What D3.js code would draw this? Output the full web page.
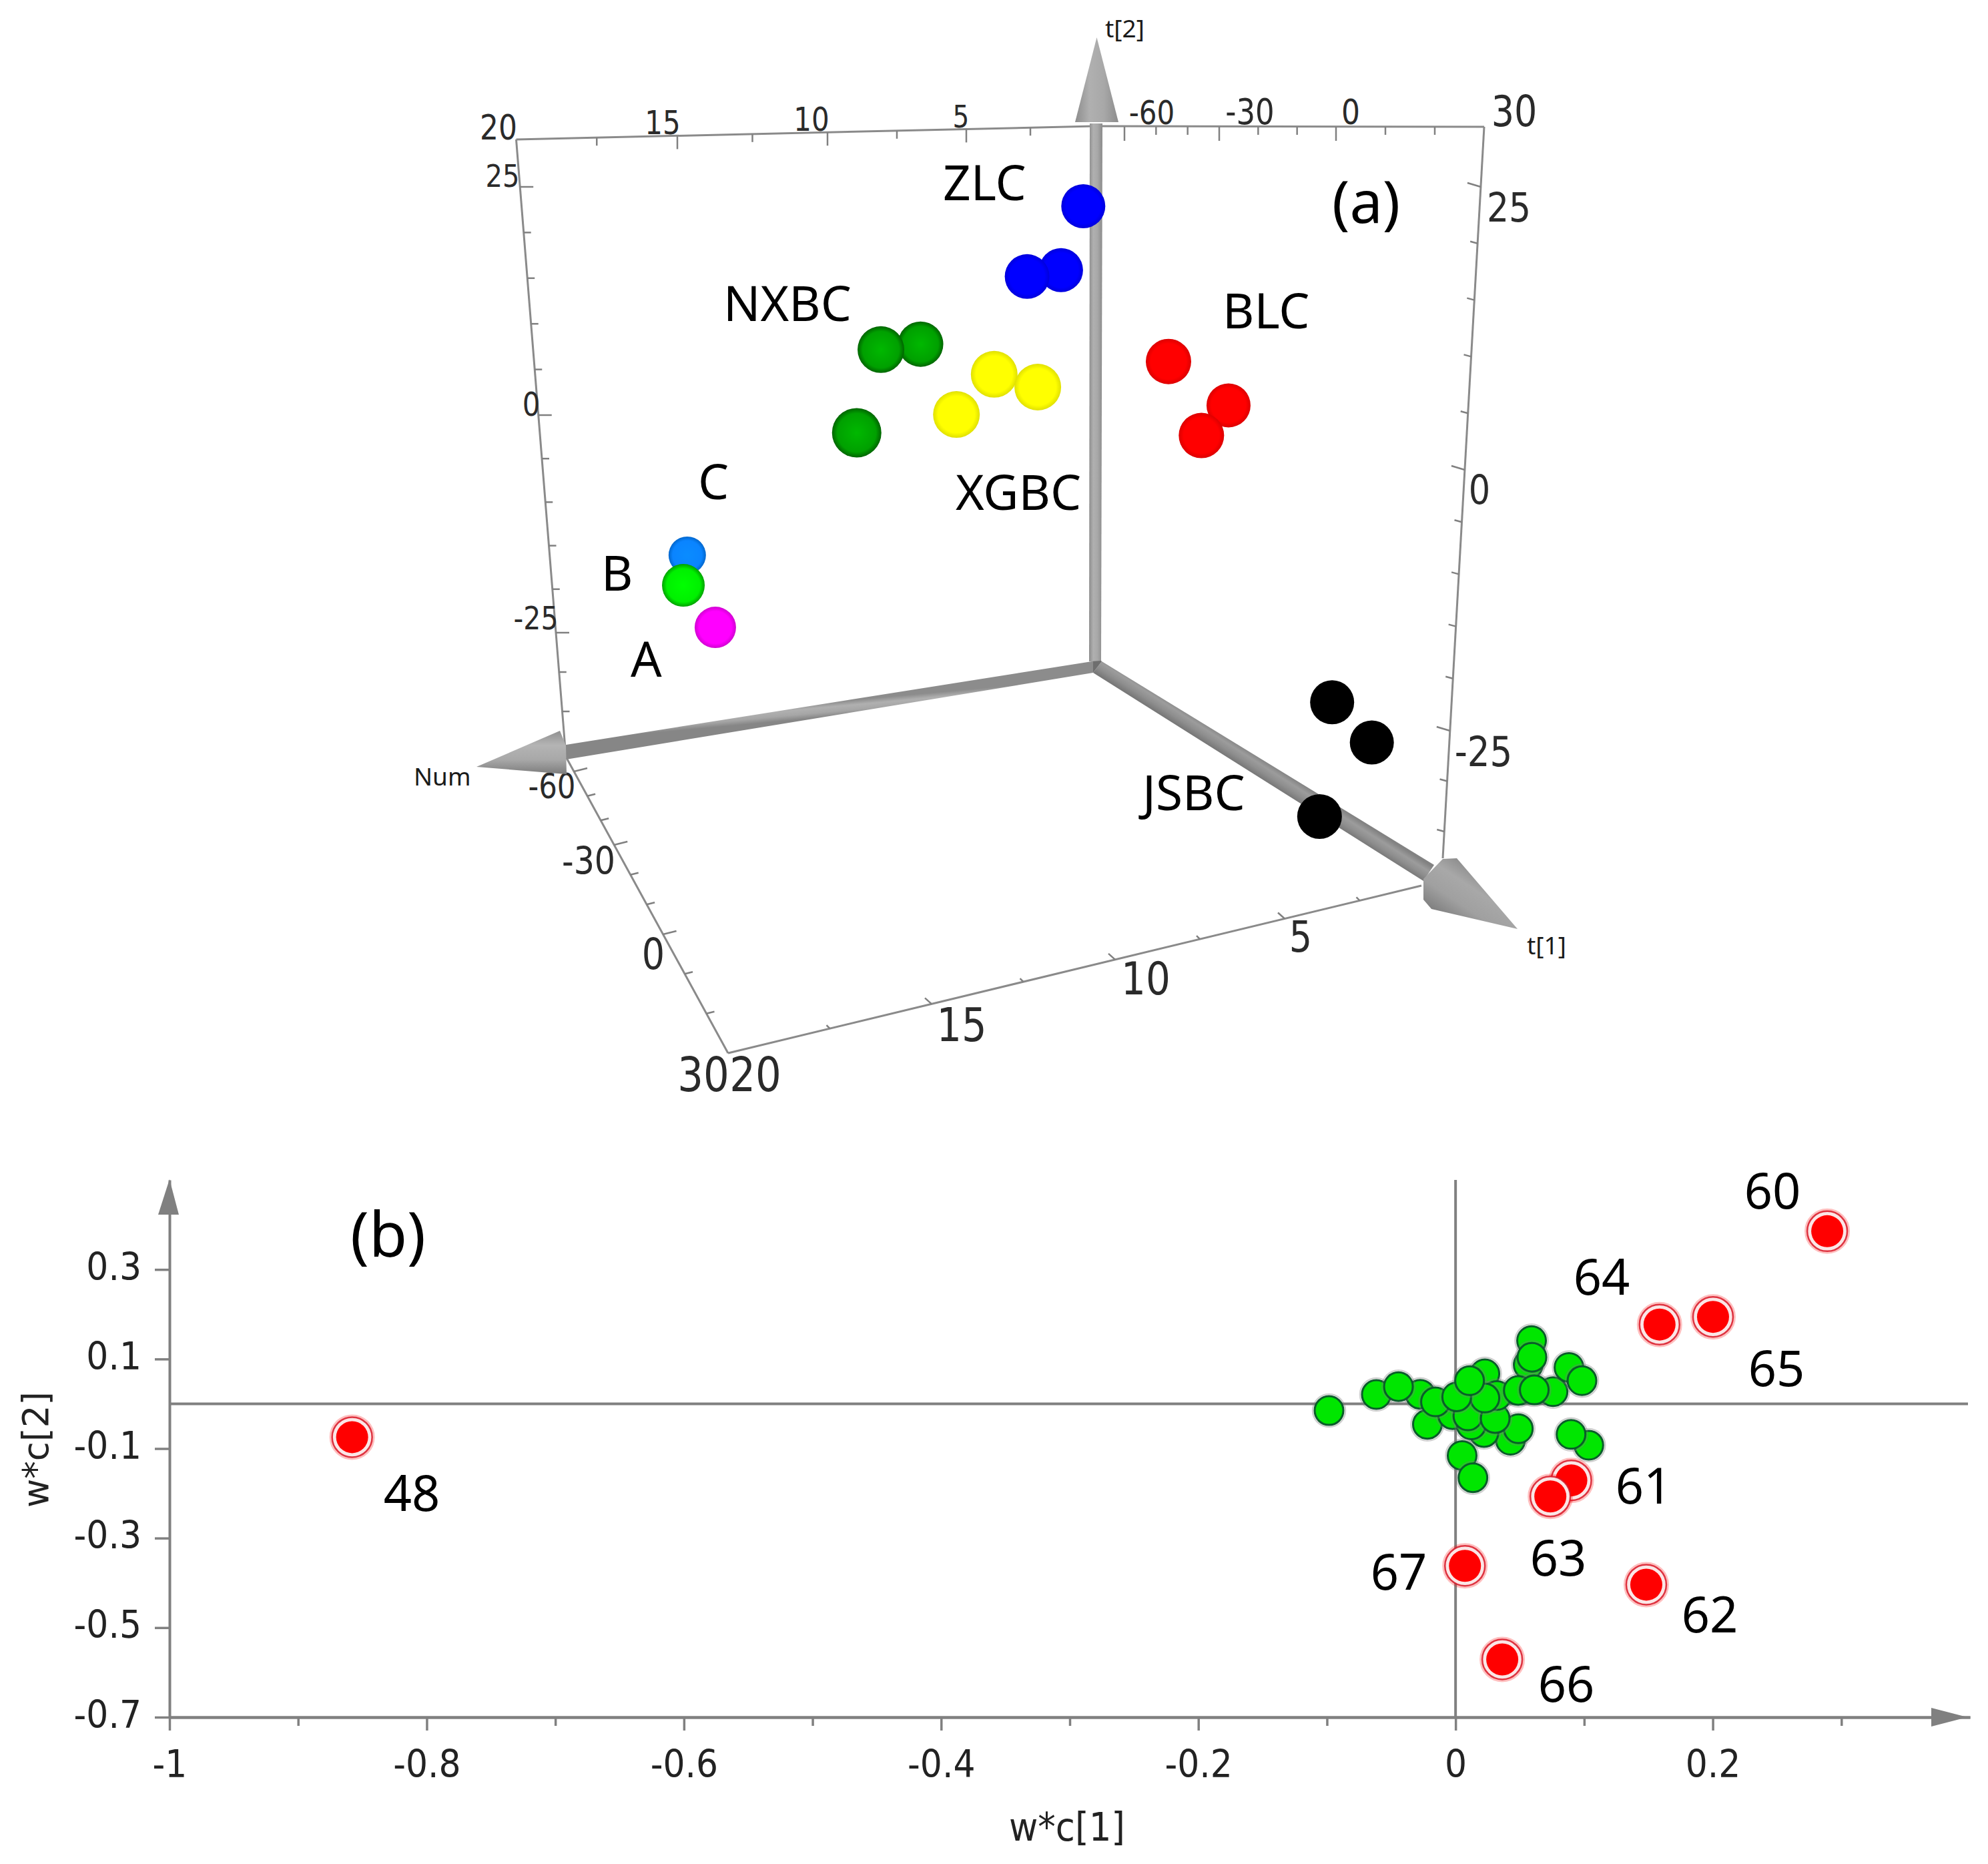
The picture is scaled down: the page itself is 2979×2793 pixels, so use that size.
<!DOCTYPE html>
<html>
<head>
<meta charset="utf-8">
<style>
html, body { margin: 0; padding: 0; background: #fff; overflow: hidden; }
svg { display: block; }
</style>
<script src="https://cdn.jsdelivr.net/npm/d3@7"></script>
</head>
<body>
<script>
var scoreGroups = ["ZLC", "ZLC", "ZLC", "NXBC", "NXBC", "NXBC", "XGBC", "XGBC", "XGBC", "BLC", "BLC", "BLC", "JSBC", "JSBC", "JSBC", "C", "B", "A"];
var scoreU = [58.6, 56.3, 52.8, 41.8, 37.7, 35.2, 49.4, 53.9, 45.5, 67.4, 73.6, 70.8, 84.3, 88.4, 83.0, 17.7, 17.3, 20.6];
var scoreV = [7.3, 14.3, 15.0, 22.4, 23.0, 32.1, 25.7, 27.1, 30.1, 24.3, 29.1, 32.4, 61.6, 66.0, 74.1, 45.5, 48.8, 53.4];
var scoreR = [33, 33, 33.5, 34, 35, 37, 35, 35, 35, 34, 33, 34, 33, 33, 33.5, 28, 32, 31];

var t1Major = [20, 15, 10, 5];
var t1Minor = [17.5, 12.5, 7.5, 2.5];
var t2Major = [25, 0, -25];
var t2Minor = [20, 15, 10, 5, -5, -10, -15, -20, -30, -35];
var numMajor = [-60, -30, 0];
var numMinor = [-50, -40, -20, -10, 10, 20];

// panel (b): loadings
var greenX = [-0.0984, -0.0275, -0.0616, -0.0444, -0.0219, -0.0023, -0.0156, 0.0228, 0.0427, 0.0488, 0.0221, 0.0122, 0.0096, 0.0308, 0.0321, 0.0228, 0.0009, 0.0109, 0.0051, 0.0135, 0.0565, 0.0488, 0.0758, 0.0612, 0.0591, 0.0594, 0.0882, 0.0983, 0.1036, 0.0898];
var greenY = [-0.0152, 0.0213, 0.0207, 0.0384, -0.0459, -0.0243, 0.0042, 0.067, -0.0814, -0.0557, -0.0641, -0.0471, -0.0271, -0.0328, 0.0185, 0.0128, 0.0156, 0.0516, -0.1155, -0.1651, 0.0869, 0.0298, 0.027, 0.031, 0.1411, 0.104, 0.0812, 0.0516, -0.0927, -0.0683];
var redIds = ["48", "60", "61", "62", "63", "64", "65", "66", "67"];
var redX = [-0.858, 0.289, 0.09, 0.1483, 0.0737, 0.1586, 0.2002, 0.0363, 0.0073];
var redY = [-0.0745, 0.3855, -0.171, -0.404, -0.207, 0.177, 0.1942, -0.571, -0.362];

var xMajor = [-1, -0.8, -0.6, -0.4, -0.2, 0, 0.2];
var xMinor = [-0.9, -0.7, -0.5, -0.3, -0.1, 0.1, 0.3];
var yMajor = [0.3, 0.1, -0.1, -0.3, -0.5, -0.7];

var axisGrey = "#808080";
var labelFont = "'Noto Sans', 'Open Sans', sans-serif";
var tickFont = "'DejaVu Sans', sans-serif";

var svg = d3.select("body").append("svg")
    .attr("width", 2979)
    .attr("height", 2793)
    .attr("viewBox", "0 0 2979 2793");
var defs = svg.append("defs");

// sphere shading, one gradient per group
var sphereColors = {
    ZLC: ["#0000ff", "#0000ff", "#0000dc"],
    NXBC: ["#00b800", "#00a000", "#006400"],
    XGBC: ["#ffff00", "#ffff00", "#e0e000"],
    BLC: ["#ff0000", "#ff0000", "#dc0000"],
    JSBC: ["#000000", "#000000", "#000000"],
    C: ["#0a8cff", "#0a84ff", "#0066cc"],
    B: ["#00ff00", "#00f000", "#00a000"],
    A: ["#ff00ff", "#ff00ff", "#d000d0"]
};
Object.keys(sphereColors).forEach(function (k) {
    var g = defs.append("radialGradient").attr("id", "sphere-" + k);
    g.append("stop").attr("offset", "0%").attr("stop-color", sphereColors[k][0]);
    g.append("stop").attr("offset", "78%").attr("stop-color", sphereColors[k][1]);
    g.append("stop").attr("offset", "100%").attr("stop-color", sphereColors[k][2]);
});

// shaft shading for the thick arrows: gradient runs across each shaft
function shaftGradient(id, x1, y1, x2, y2, stops) {
    var g = defs.append("linearGradient").attr("id", id)
        .attr("gradientUnits", "userSpaceOnUse")
        .attr("x1", x1).attr("y1", y1).attr("x2", x2).attr("y2", y2);
    stops.forEach(function (s, i) {
        g.append("stop").attr("offset", (i / (stops.length - 1) * 100) + "%").attr("stop-color", s);
    });
}
shaftGradient("t2-shaft", 1632, 0, 1651, 0, ["#8c8c8c", "#b0b0b0", "#a8a8a8", "#8e8e8e"]);
shaftGradient("t2-cone", 1611, 0, 1676, 0, ["#8c8c8c", "#b0b0b0", "#a8a8a8", "#8c8c8c"]);
shaftGradient("num-shaft", 1242, 1052, 1244, 1074, ["#8c8c8c", "#b0b0b0", "#a6a6a6", "#868686"]);
shaftGradient("num-cone", 800, 1095, 800, 1160, ["#909090", "#b4b4b4", "#a8a8a8", "#7c7c7c"]);
shaftGradient("t1-shaft", 1883, 1162, 1897, 1140, ["#787878", "#8e8e8e", "#9c9c9c", "#828282"]);
shaftGradient("t1-cone", 2200, 1290, 2150, 1365, ["#888888", "#a8a8a8", "#a0a0a0", "#808080"]);

// ---------- panel (a) ----------
var panelA = svg.append("g").attr("class", "panel-a");
var frame = panelA.append("g").attr("class", "frame");

var xFrame = d3.scaleLinear().domain([0, 100]).range([773, 2224]);
var yFrame = d3.scaleLinear().domain([0, 100]).range([209, 1578]);

// edge scales, piecewise because of the perspective
var t1Top = d3.scaleLinear().domain([20, 15, 10, 5, 0]).range([773.5, 1015, 1240, 1448, 1640]);
var t1TopY = d3.scaleLinear().domain([773.5, 1640]).range([209, 189]);
var numTop = d3.scaleLinear().domain([-60, -30, 0, 30]).range([1685, 1827, 2002, 2224]);
var t2Left = d3.scaleLinear().domain([30, 25, 0, -25, -35, -41]).range([209, 280, 622, 948, 1066, 1134]);
var t2LeftX = d3.scaleLinear().domain([209, 1134]).range([773.5, 848]);
var t2Right = d3.scaleLinear().domain([30, 25, 0, -25, -35, -38]).range([190, 280, 704, 1095, 1246, 1286]);
var t2RightX = d3.scaleLinear().domain([190, 1286]).range([2224, 2162]);
var numBottom = d3.scaleLinear().domain([-60, -30, 0, 30]).range([1156, 1266, 1400, 1578]);
var numBottomX = d3.scaleLinear().domain([1134, 1578]).range([848, 1091]);
var t1Bottom = d3.scaleLinear().domain([20, 15, 10, 5, 0]).range([1091, 1396, 1671, 1925, 2150]);
var t1BottomY = d3.scaleLinear().domain([1091, 2130]).range([1578, 1327]);

var edges = [
    [[773.5, 209], [1640, 189]],
    [[1640, 189], [2224, 190]],
    [[773.5, 209], [848, 1134]],
    [[2224, 190], [2162, 1286]],
    [[848, 1134], [1091, 1578]],
    [[1091, 1578], [2130, 1327]]
];
frame.selectAll("line.edge").data(edges).enter().append("line")
    .attr("class", "edge")
    .attr("x1", function (d) { return d[0][0]; })
    .attr("y1", function (d) { return d[0][1]; })
    .attr("x2", function (d) { return d[1][0]; })
    .attr("y2", function (d) { return d[1][1]; })
    .attr("stroke", "#8a8a8a")
    .attr("stroke-width", 3);

// draw ticks along one edge; pos gives the edge point of a value
function edgeTicks(values, pos, dx, dy) {
    frame.append("g").selectAll("line").data(values).enter().append("line")
        .attr("x1", function (d) { return pos(d)[0]; })
        .attr("y1", function (d) { return pos(d)[1]; })
        .attr("x2", function (d) { return pos(d)[0] + dx; })
        .attr("y2", function (d) { return pos(d)[1] + dy; })
        .attr("stroke", "#808080")
        .attr("stroke-width", 2.5);
}
function topT1(v) { return [t1Top(v), t1TopY(t1Top(v))]; }
function topNum(v) { return [numTop(v), 190]; }
function leftT2(v) { return [t2LeftX(t2Left(v)), t2Left(v)]; }
function rightT2(v) { return [t2RightX(t2Right(v)), t2Right(v)]; }
function bottomNum(v) { return [numBottomX(numBottom(v)), numBottom(v)]; }
function bottomT1(v) { return [t1Bottom(v), t1BottomY(t1Bottom(v))]; }

edgeTicks(t1Major.slice(1), topT1, 0, 20);
edgeTicks(t1Minor, topT1, 0, 12);
edgeTicks(numMajor, topNum, 0, 21);
edgeTicks(numMinor, topNum, 0, 12);
edgeTicks(t2Major, leftT2, 20, 0);
edgeTicks(t2Minor, leftT2, 11, 0);
edgeTicks(t2Major, rightT2, -20, -6);
edgeTicks(t2Minor, rightT2, -11, -3);
edgeTicks(numMajor, bottomNum, 20, -5);
edgeTicks(numMinor, bottomNum, 12, -3);
edgeTicks(t1Major.slice(1), bottomT1, -10, -9);
edgeTicks(t1Minor, bottomT1, -5, -5);

// tick labels of the frame, sizes shrink with depth; the glyphs are a bit tall in the original
var frameLabels = [
    ["20", 747, 209, 44], ["15", 993, 201, 42], ["10", 1216, 196, 42], ["5", 1440, 191, 39],
    ["-60", 1726, 186, 42], ["-30", 1873, 186, 45], ["0", 2024, 186, 44], ["30", 2269, 189, 54],
    ["25", 753, 280, 40], ["0", 796, 623, 42], ["-25", 803, 943, 41],
    ["25", 2261, 332, 52], ["0", 2217, 755, 51], ["-25", 2223, 1148, 53],
    ["-60", 827, 1196, 43.5], ["-30", 882, 1310, 49], ["0", 979, 1452, 54],
    ["30", 1054, 1635, 61], ["20", 1132, 1635, 61],
    ["15", 1441, 1560, 59], ["10", 1717, 1490, 58], ["5", 1949, 1426, 54]
];
frame.append("g").selectAll("text").data(frameLabels).enter().append("text")
    .attr("transform", function (d) { return "translate(" + d[1] + "," + d[2] + ") scale(1,1.17)"; })
    .attr("font-size", function (d) { return d[3]; })
    .attr("font-family", tickFont)
    .attr("text-anchor", "middle")
    .attr("fill", "#2a2a2a")
    .text(function (d) { return d[0]; });

// thick axes
var arrows = panelA.append("g").attr("class", "arrows");
function arrowPart(points, fill) {
    arrows.append("polygon").attr("points", points.join(" ")).attr("fill", fill);
}
arrowPart([[1633, 185], [1652, 185], [1650, 991], [1632, 991]], "url(#t2-shaft)");
arrowPart([[1643.5, 56], [1676, 183], [1611, 183]], "url(#t2-cone)");
arrowPart([[1638, 990.7], [1638, 1008], [848, 1138], [848, 1116]], "url(#num-shaft)");
arrowPart([[714, 1149], [839, 1095], [848, 1117], [849, 1160]], "url(#num-cone)");
arrowPart([[1651, 991], [2149, 1296], [2133, 1320], [1638, 1008]], "url(#t1-shaft)");
arrowPart([[1638, 990.7], [1650, 990], [1651, 991], [1638, 1008]], "#6e6e6e");
arrowPart([[2274, 1392], [2183, 1286], [2162, 1287], [2133, 1317], [2133, 1348], [2145, 1362]], "url(#t1-cone)");

function axisName(txt, x, y, size) {
    panelA.append("text").attr("x", x).attr("y", y)
        .attr("font-size", size).attr("font-family", labelFont).attr("fill", "#1a1a1a")
        .text(txt);
}
axisName("t[2]", 1656, 56, 37);
axisName("t[1]", 2288, 1430, 37);
axisName("Num", 620, 1177, 37);

// score spheres
panelA.append("g").attr("class", "scores").selectAll("circle")
    .data(d3.range(scoreU.length)).enter().append("circle")
    .attr("cx", function (i) { return xFrame(scoreU[i]); })
    .attr("cy", function (i) { return yFrame(scoreV[i]); })
    .attr("r", function (i) { return scoreR[i]; })
    .attr("fill", function (i) { return "url(#sphere-" + scoreGroups[i] + ")"; });

// group names and panel letter
var groupLabels = [
    ["ZLC", 1413, 300], ["NXBC", 1084, 481], ["BLC", 1832, 492], ["C", 1046, 748],
    ["XGBC", 1432, 764], ["B", 901, 885], ["A", 945, 1014], ["JSBC", 1712, 1214]
];
panelA.append("g").selectAll("text").data(groupLabels).enter().append("text")
    .attr("x", function (d) { return d[1]; })
    .attr("y", function (d) { return d[2]; })
    .attr("font-size", 73)
    .attr("font-family", labelFont)
    .attr("fill", "#000")
    .text(function (d) { return d[0]; });
panelA.append("text").attr("x", 1996).attr("y", 334)
    .attr("font-size", 88).attr("font-family", labelFont).attr("fill", "#000")
    .text("(a)");

// ---------- panel (b) ----------
var panelB = svg.append("g").attr("class", "panel-b");
var x = d3.scaleLinear().domain([-1, 0.4]).range([254, 2952]);
var y = d3.scaleLinear().domain([-0.7, 0.5]).range([2573, 1768]);

// zero lines
panelB.append("line").attr("x1", x(-1)).attr("x2", 2949).attr("y1", y(0)).attr("y2", y(0))
    .attr("stroke", axisGrey).attr("stroke-width", 4);
panelB.append("line").attr("x1", x(0)).attr("x2", x(0)).attr("y1", y(0.5)).attr("y2", y(-0.7))
    .attr("stroke", axisGrey).attr("stroke-width", 4);

var xAxis = panelB.append("g")
    .attr("transform", "translate(0," + y(-0.7) + ")")
    .call(d3.axisBottom(x).tickValues(xMajor).tickSize(20).tickSizeOuter(0).tickFormat(function (d) { return String(d); }));
panelB.append("g")
    .attr("transform", "translate(0," + y(-0.7) + ")")
    .call(d3.axisBottom(x).tickValues(xMinor).tickSize(13).tickSizeOuter(0).tickFormat(""));
var yAxis = panelB.append("g")
    .attr("transform", "translate(" + x(-1) + ",0)")
    .call(d3.axisLeft(y).tickValues(yMajor).tickSize(22).tickSizeOuter(0).tickFormat(function (d) { return String(d); }));

panelB.selectAll(".domain").attr("stroke", axisGrey).attr("stroke-width", 4);
panelB.selectAll(".tick line").attr("stroke", axisGrey).attr("stroke-width", 3.5);
xAxis.selectAll("text").attr("y", 0).attr("dy", 0)
    .attr("transform", "translate(0,90) scale(1,1.1)")
    .attr("font-size", 52).attr("font-family", tickFont).attr("fill", "#222");
yAxis.selectAll("text").attr("x", 0).attr("dy", 0)
    .attr("transform", "translate(-42,15) scale(1,1.1)")
    .attr("font-size", 52).attr("font-family", tickFont).attr("fill", "#222");

// arrow heads on both axes
panelB.append("path")
    .attr("d", d3.line()([[x(-1), 1767], [x(-1) + 14, 1820], [x(-1) - 17, 1820]]) + "Z")
    .attr("fill", axisGrey);
panelB.append("path")
    .attr("d", d3.line()([[2948, y(-0.7)], [2894, y(-0.7) - 14], [2894, y(-0.7) + 14]]) + "Z")
    .attr("fill", axisGrey);

panelB.append("text").attr("transform", "translate(1599,2758) scale(1,1.1)")
    .attr("text-anchor", "middle").attr("font-size", 53).attr("font-family", tickFont).attr("fill", "#222")
    .text("w*c[1]");
panelB.append("text")
    .attr("transform", "translate(72,2172) rotate(-90)")
    .attr("text-anchor", "middle").attr("font-size", 53).attr("font-family", tickFont).attr("fill", "#222")
    .text("w*c[2]");

// green loadings, later ones sit on top
var greens = panelB.append("g").selectAll("g")
    .data(d3.range(greenX.length)).enter().append("g")
    .attr("transform", function (i) { return "translate(" + x(greenX[i]) + "," + y(greenY[i]) + ")"; });
greens.append("circle").attr("r", 24.5).attr("fill", "none")
    .attr("stroke", "#777").attr("stroke-opacity", 0.35).attr("stroke-width", 2.5);
greens.append("circle").attr("r", 21.5).attr("fill", "#00e600")
    .attr("stroke", "#0a5c2a").attr("stroke-width", 3);

// red highlighted loadings
var reds = panelB.append("g").selectAll("g")
    .data(d3.range(redX.length)).enter().append("g")
    .attr("transform", function (i) { return "translate(" + x(redX[i]) + "," + y(redY[i]) + ")"; });
reds.append("circle").attr("r", 32.5).attr("fill", "none")
    .attr("stroke", "#ff0000").attr("stroke-opacity", 0.25).attr("stroke-width", 3);
reds.append("circle").attr("r", 30).attr("fill", "#fbe6e6")
    .attr("stroke", "#d81020").attr("stroke-opacity", 0.85).attr("stroke-width", 2.5);
reds.append("circle").attr("r", 24).attr("fill", "#ff0000");

// number labels, same order as redIds
var redLabelX = [617, 2656, 2463, 2562, 2335, 2400, 2662, 2347, 2096];
var redLabelY = [2264, 1811, 2253, 2446, 2361, 1940, 2077, 2550, 2382];
panelB.append("g").selectAll("text").data(redIds).enter().append("text")
    .attr("x", function (d, i) { return redLabelX[i]; })
    .attr("y", function (d, i) { return redLabelY[i]; })
    .attr("text-anchor", "middle")
    .attr("font-size", 74)
    .attr("font-family", labelFont)
    .attr("fill", "#000")
    .text(function (d) { return d; });

panelB.append("text").attr("x", 525).attr("y", 1883)
    .attr("font-size", 93).attr("font-family", labelFont).attr("fill", "#000")
    .text("(b)");
</script>
</body>
</html>
